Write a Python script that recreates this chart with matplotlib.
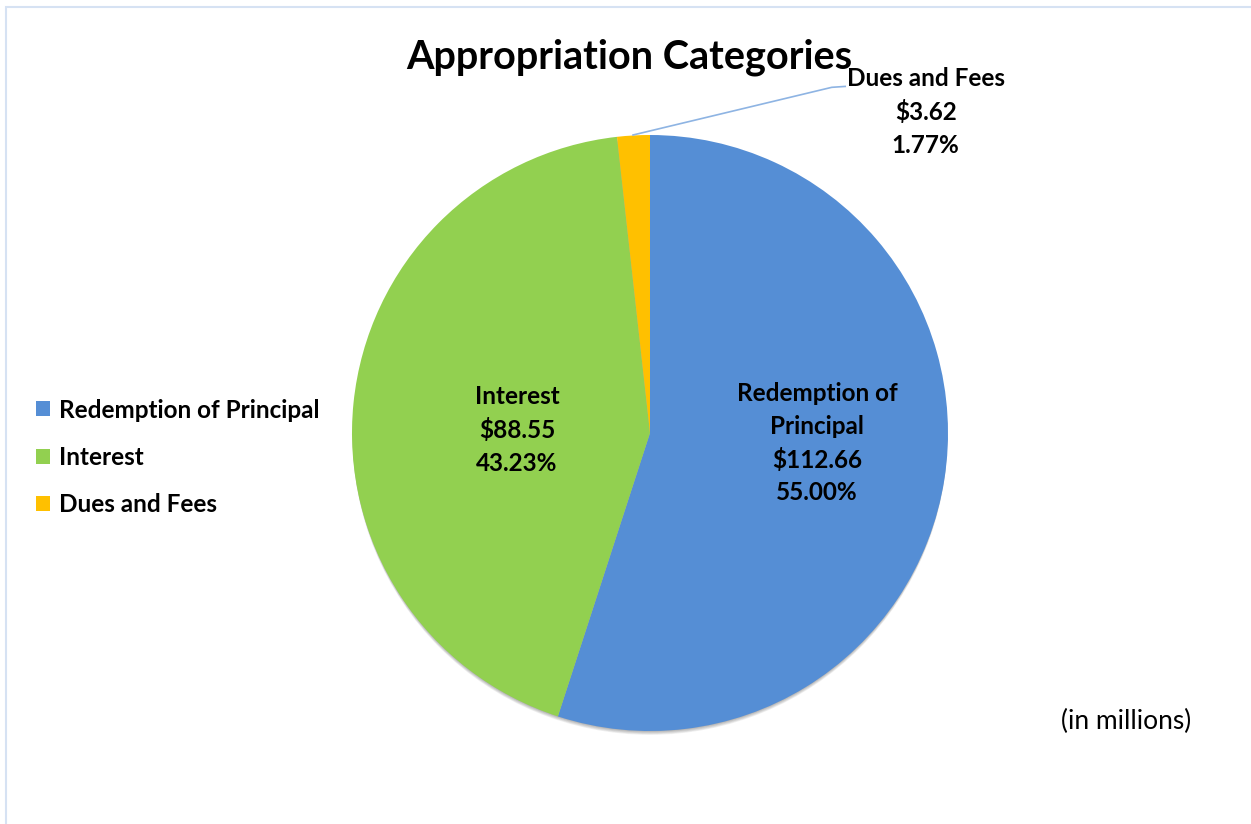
import matplotlib.pyplot as plt
from matplotlib.patches import Patch, Rectangle, Circle

# appropriation data (in millions)
categories = ['Redemption of Principal', 'Interest', 'Dues and Fees']
amounts = [112.66, 88.55, 3.62]
slice_labels = ['Redemption of\nPrincipal', 'Interest', 'Dues and Fees']
colors = ['#558ED5', '#92D050', '#FFC000']

plt.rcParams['font.family'] = ['Lato', 'DejaVu Sans']

fig = plt.figure(figsize=(12.51, 8.24), dpi=100, facecolor='white')

# light frame around the chart area
fig.patches.append(Rectangle((6 / 1251, -0.05), 1.1, (824 - 7) / 824 + 0.05,
                             transform=fig.transFigure, fill=False,
                             edgecolor='#D6E2F3', lw=1.5))

# pie axes: center (650, 433) px, radius 298 px
ax = fig.add_axes([(650 - 298) / 1251, (824 - 731) / 824, 596 / 1251, 596 / 824])

# soft drop shadow, only below the pie
for i in range(1, 7):
    ax.add_patch(Circle((0, -0.0025 * i), 0.998, facecolor='black',
                        edgecolor='none', alpha=0.06, zorder=0, clip_on=False))

wedges, _ = ax.pie(amounts, colors=colors, startangle=90, counterclock=False,
                   radius=1, center=(0, 0),
                   wedgeprops=dict(edgecolor='none', linewidth=0, zorder=1))
ax.set_xlim(-1, 1)
ax.set_ylim(-1, 1)
ax.set_aspect('auto')
ax.axis('off')

total = sum(amounts)
pcts = [a / total * 100 for a in amounts]

label_pos = [(0.56, -0.035), (-0.446, 0.01), (0.925, 1.077)]
for name, amt, pct, (x, y) in zip(slice_labels, amounts, pcts, label_pos):
    ax.text(x, y, f'{name}\n${amt:.2f}\n{pct:.2f}%', ha='center', va='center',
            fontsize=17.5, fontweight='bold', linespacing=1.5, clip_on=False)

# leader line for the small slice
ax.plot([-0.057, 0.61, 0.655], [1.0, 1.16, 1.163], color='#8EB4E3', lw=1.2,
        clip_on=False)

fig.text(0.503, 0.931, 'Appropriation Categories', ha='center', va='center',
         fontsize=28.5, fontweight='bold')
fig.text(0.9, 0.124, '(in millions)', ha='center', va='center', fontsize=19)

handles = [Patch(facecolor=c, edgecolor='none') for c in colors]
fig.legend(handles, categories, loc='center left', bbox_to_anchor=(0.011, 0.445),
           frameon=False, handlelength=0.58, handleheight=0.58, handletextpad=0.4,
           labelspacing=1.0, prop=dict(size=17.5, weight='bold'))

fig.savefig('out.png', dpi=100, facecolor='white')
